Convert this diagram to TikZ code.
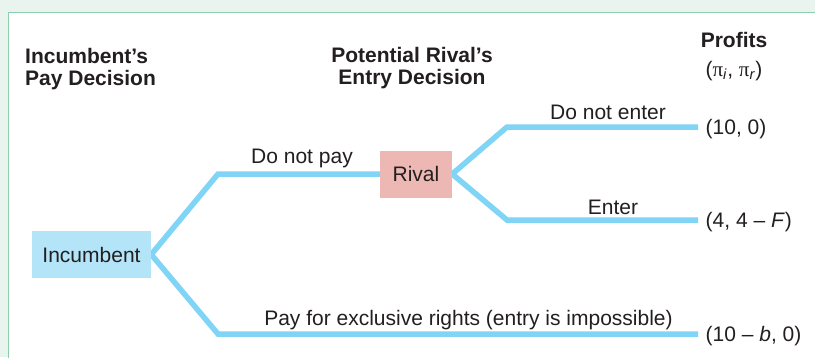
\documentclass[tikz,border=0pt]{standalone}
\usepackage{fontspec}
\setmainfont{Liberation Sans}
\newfontfamily\greekfont{Liberation Serif}
\usetikzlibrary{backgrounds,positioning}
\definecolor{pagegreen}{RGB}{233,244,239}
\definecolor{framegreen}{RGB}{140,207,174}
\definecolor{branchblue}{RGB}{128,212,245}
\definecolor{incblue}{RGB}{179,228,248}
\definecolor{rivalred}{RGB}{237,184,180}
\definecolor{inkgray}{RGB}{35,31,32}
\tikzset{
  every node/.style={text=inkgray},
  branch/.style={line width=5.5pt, branchblue},
  player/.style={minimum height=47pt, inner sep=0pt, font=\fontsize{21}{22}\selectfont},
  move/.style={anchor=base, inner sep=0pt, font=\fontsize{21}{22}\selectfont},
  payoff/.style={anchor=west, inner xsep=7.5pt, inner ysep=0pt, text height=15pt, text depth=0pt, font=\fontsize{21}{22}\selectfont},
  header/.style={inner sep=0pt, font=\fontsize{21}{22}\selectfont\bfseries},
}

\begin{document}
\begin{tikzpicture}[x=1pt, y=-1pt]
  \useasboundingbox (0,0) rectangle (815,357);

  % Decision makers
  \node[player, fill=incblue, minimum width=119pt] (inc) at (91.5,254.5) {Incumbent};
  \node[player, fill=rivalred, minimum width=72pt] (rival) at (416,174) {Rival};

  % Payoffs
  \node[payoff] (p1) at (698,127) {(10, 0)};
  \node[payoff] (p2) at (698,220) {(4, 4 – \textit{F})};
  \node[payoff] (p3) at (698,334) {(10 – \textit{b}, 0)};

  % Bends of the branches
  \coordinate (k1) at (218,174);
  \coordinate (k2) at (507,127);
  \coordinate (k3) at (507,220);
  \coordinate (k4) at (218,334);

  % Moves
  \node[move] (dnp) at (302,163) {Do not pay};
  \node[move] (dne) at (608,119) {Do not enter};
  \node[move] (ent) at (613,214) {Enter};
  \node[move] (pay) at (468.5,325) {Pay for exclusive rights (entry is impossible)};

  % Column headers
  \node[header, align=left, anchor=base west] (hinc) at (25,85) {Incumbent’s\\Pay Decision};
  \node[header, align=center, anchor=base] (hriv) at (412,84) {Potential Rival’s\\Entry Decision};
  \node[header, anchor=base] (hpro) at (734,47) {Profits};
  \node[anchor=base, inner sep=0pt, font=\fontsize{21}{22}\selectfont] (hpi) at (734,76)
    {({\greekfont π}\textsubscript{\textit{i}}, {\greekfont π}\textsubscript{\textit{r}})};

  \begin{pgfonlayer}{background}
    % Page and frame
    \fill[pagegreen] (0,0) rectangle (815,357);
    \draw[framegreen, line width=1.5pt, fill=white] (8.5,12.5) rectangle (825,367);

    % Tree
    \draw[branch] (inc.east) -- (k1) -- (rival.west);
    \draw[branch] (inc.east) -- (k4) -- (p3.west);
    \draw[branch] (rival.east) -- (k2) -- (p1.west);
    \draw[branch] (rival.east) -- (k3) -- (p2.west);
  \end{pgfonlayer}
\end{tikzpicture}
\end{document}
